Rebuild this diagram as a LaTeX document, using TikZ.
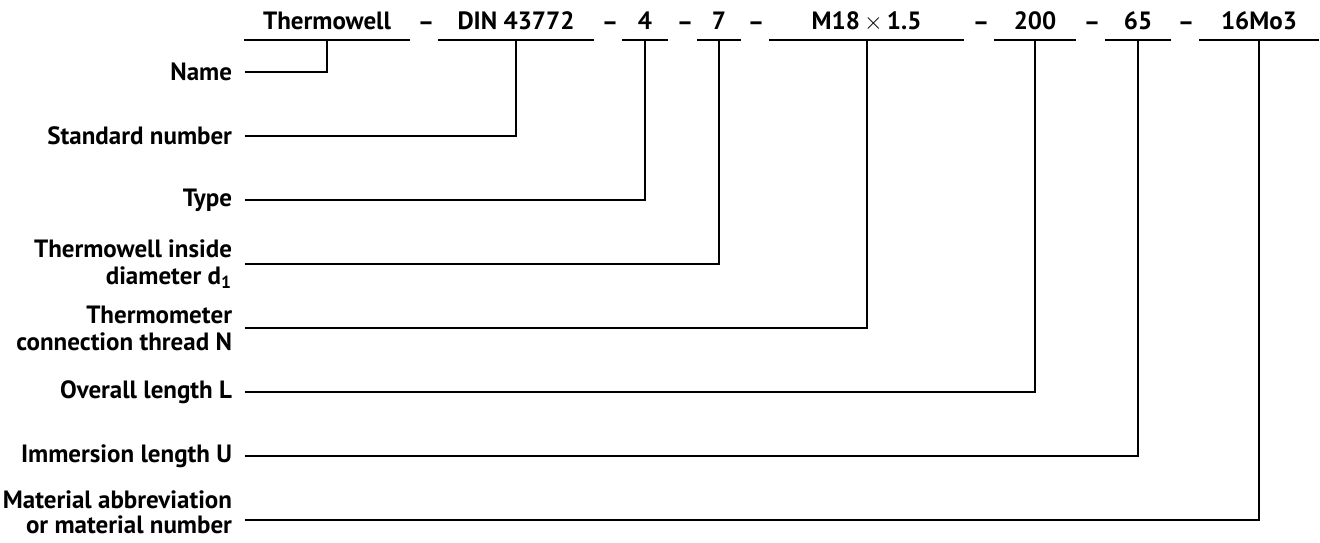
\documentclass[tikz,border=0pt]{standalone}
\usepackage{fontspec}
\setmainfont{PT Sans}
\usetikzlibrary{positioning}

\begin{document}
\begin{tikzpicture}[
  x=0.5pt, y=-0.5pt, line width=1pt,
  part/.style={font=\fontsize{12.5}{14}\selectfont\bfseries, text depth=0pt, inner xsep=0pt, inner ysep=5pt, anchor=south},
  sep/.style={font=\fontsize{12.5}{14}\selectfont\bfseries, text depth=0pt, inner sep=0pt, anchor=base},
  lbl/.style={font=\fontsize{12.5}{13.5}\selectfont\bfseries, align=right, anchor=east, inner xsep=6pt, inner ysep=0pt}
]
\useasboundingbox (0,0) rectangle (1320,542);

% designation parts
\node[part, minimum width=82pt]   (name) at (327,40)    {Thermowell};
\node[part, minimum width=77pt]   (std)  at (516,40)    {DIN 43772};
\node[part, minimum width=22pt]   (type) at (645,40)    {4};
\node[part, minimum width=21pt]   (dia)  at (719,40)    {7};
\node[part, minimum width=96.5pt] (thr)  at (866.5,40)  {M18\,$\times$\,1.5};
\node[part, minimum width=40pt]   (len)  at (1035,40)   {200};
\node[part, minimum width=32pt]   (imm)  at (1138,40)   {65};
\node[part, minimum width=59pt]   (mat)  at (1259,40)   {16Mo3};

\node[sep] (s1) at (426,30)  {--};
\node[sep] (s2) at (610,30)  {--};
\node[sep] (s3) at (685,30)  {--};
\node[sep] (s4) at (756,30)  {--};
\node[sep] (s5) at (981,30)  {--};
\node[sep] (s6) at (1092,30) {--};
\node[sep] (s7) at (1186,30) {--};

% meanings
\node[lbl] (lname) at (245,72)  {Name};
\node[lbl] (lstd)  at (245,136) {Standard number};
\node[lbl] (ltype) at (245,200) {Type};
\node[lbl] (ldia)  at (245,264) {Thermowell inside\\diameter d\textsubscript{1}};
\node[lbl] (lthr)  at (245,328) {Thermometer\\connection thread N};
\node[lbl] (llen)  at (245,392) {Overall length L};
\node[lbl] (limm)  at (245,456) {Immersion length U};
\node[lbl, font=\fontsize{12.5}{12.5}\selectfont\bfseries, text depth=8pt] (lmat) at (245,520) {Material abbreviation\\or material number};

\draw (name.south west) -- (name.south east);
\draw (std.south west)  -- (std.south east);
\draw (type.south west) -- (type.south east);
\draw (dia.south west)  -- (dia.south east);
\draw (thr.south west)  -- (thr.south east);
\draw (len.south west)  -- (len.south east);
\draw (imm.south west)  -- (imm.south east);
\draw (mat.south west)  -- (mat.south east);

\draw (lname.east) -| (name.south);
\draw (lstd.east)  -| (std.south);
\draw (ltype.east) -| (type.south);
\draw (ldia.east)  -| (dia.south);
\draw (lthr.east)  -| (thr.south);
\draw (llen.east)  -| (len.south);
\draw (limm.east)  -| (imm.south);
\draw (lmat.east)  -| (mat.south);
\end{tikzpicture}
\end{document}
